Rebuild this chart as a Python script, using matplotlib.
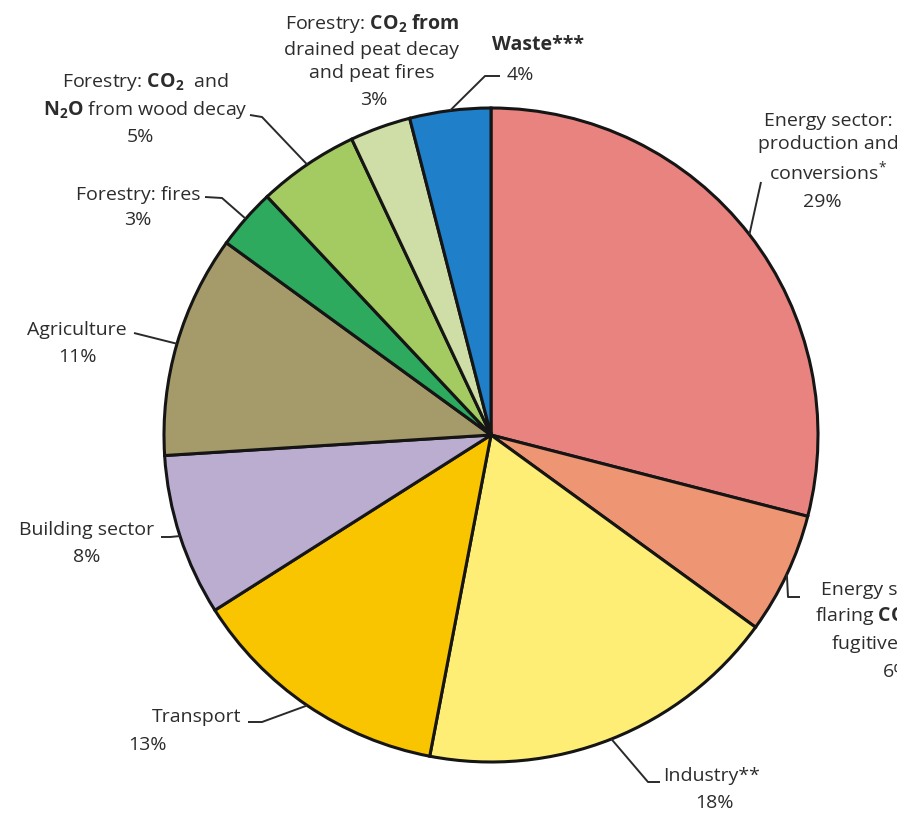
import numpy as np
import matplotlib.pyplot as plt

plt.rcParams['font.family'] = ['Open Sans', 'DejaVu Sans']
plt.rcParams['mathtext.fontset'] = 'custom'
plt.rcParams['mathtext.rm'] = 'Open Sans'
plt.rcParams['mathtext.bf'] = 'Open Sans:bold'
plt.rcParams['mathtext.it'] = 'Open Sans:italic'

# data, clockwise from 12 o'clock
names = [
    'Energy sector:\nproduction and\nconversions$^{*}$',
    'Energy sector:\nflaring $\\mathbf{CO_2}$ and\nfugitive $\\mathbf{CH_4}$',
    'Industry**',
    'Transport',
    'Building sector',
    'Agriculture',
    'Forestry: fires',
    'Forestry: $\\mathbf{CO_2}$  and\n$\\mathbf{N_2O}$ from wood decay',
    'Forestry: $\\mathbf{CO_2}$ $\\mathbf{from}$\ndrained peat decay\nand peat fires',
    'Waste***',
]
shares = [29, 6, 18, 13, 8, 11, 3, 5, 3, 4]
colors = ['#E8837F', '#EE9673', '#FEEE75', '#F9C400', '#BBADCF',
          '#A59A6A', '#2EAA5F', '#A4CB62', '#CFDDA6', '#1F7FC8']

W, H = 897, 821
CX, CY, R = 491, 435, 327
TXT = '#2c2c2c'

# label placement in pixels from top-left: name centre, pct centre, leader points
place = [
    ((828, 148), (822, 202), [(761, 182)]),
    ((885, 618), (897, 672), [(788, 597), (800, 597)]),
    ((712, 776), (714, 803), [(648, 782), (660, 782)]),
    ((197, 717), (147, 745), [(262, 722), (248, 722)]),
    ((87, 530), (87, 557), [(170, 537), (161, 537)]),
    ((77, 330), (77, 357), [(134, 333)]),
    ((138, 195), (138, 220), [(222, 198), (205, 197)]),
    ((145, 96), (140, 137), [(262, 117), (250, 115)]),
    ((372, 47), (374, 100), []),
    ((538, 45), (520, 75), [(485, 76), (500, 76)]),
]

fig = plt.figure(figsize=(W / 100, H / 100), dpi=100)
ax = fig.add_axes([0, 0, 1, 1])
ax.pie(shares, colors=colors, startangle=90, counterclock=False,
       center=(CX, H - CY), radius=R, frame=True,
       wedgeprops=dict(edgecolor='#151515', linewidth=2.2))
ax.set_xlim(0, W)
ax.set_ylim(0, H)
ax.set_aspect('equal')
ax.axis('off')

cum = np.cumsum([0] + shares)
for i, (name, s) in enumerate(zip(names, shares)):
    (nx, ny), (px, py), pts = place[i]
    weight = 'bold' if name.startswith('Waste') else 'normal'
    ax.text(nx, H - ny, name, ha='center', va='center', fontsize=14,
            color=TXT, linespacing=1.38, fontweight=weight)
    ax.text(px, H - py, f'{s}%', ha='center', va='center', fontsize=14,
            color=TXT)
    if pts:
        mid = np.deg2rad(90 - (cum[i] + s / 2) * 3.6)
        xs = [CX + R * np.cos(mid)] + [p[0] for p in pts]
        ys = [(H - CY) + R * np.sin(mid)] + [H - p[1] for p in pts]
        ax.plot(xs, ys, color='#2a2a2a', lw=1.4, solid_capstyle='butt')

fig.savefig('out.png', dpi=100)
